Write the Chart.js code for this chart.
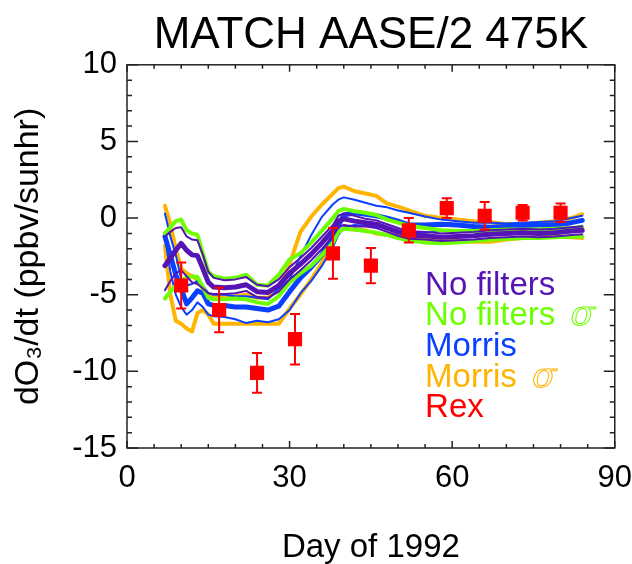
<!DOCTYPE html>
<html>
<head>
<meta charset="utf-8">
<script src="https://cdn.jsdelivr.net/npm/chart.js@4"></script>
<style>
  html, body { margin: 0; padding: 0; background: #fff; }
</style>
</head>
<body>
<canvas id="grafik" width="632" height="564"></canvas>
<script>
// days of the model curves
const days = [7, 8, 9, 10, 11, 12, 13, 14, 15, 16, 18, 20, 22, 24, 26, 28, 30, 32, 34, 36, 38, 39, 40,
  42, 44, 46, 48, 50, 52, 55, 58, 61, 64, 67, 70, 73, 76, 79, 82, 84];

// No filters (purple), thick mean plus two thin companions
const noFilters = [-3.1, -2.6, -2.1, -1.65, -2.1, -2.4, -2.45, -3.3, -4.2, -4.5, -4.55, -4.5, -4.35, -4.8, -4.85, -4.4,
  -3.6, -3.0, -2.35, -1.6, -0.8, -0.2, -0.05, -0.2, -0.3, -0.4, -0.65, -0.9, -1.1, -1.15, -1.25, -1.2, -1.15, -1.05,
  -1.0, -0.95, -1.0, -0.95, -0.85, -0.8];
const noFiltersHi = [-1.2, -0.9, -0.65, -0.6, -1.2, -1.4, -1.45, -2.4, -3.5, -3.9, -4.05, -4.0, -3.85, -4.35, -4.45, -4.0,
  -3.2, -2.6, -1.95, -1.2, -0.45, 0.15, 0.3, 0.15, -0.05, -0.15, -0.4, -0.65, -0.85, -0.9, -1.0, -0.95, -0.9, -0.8,
  -0.75, -0.7, -0.75, -0.7, -0.6, -0.55];
const noFiltersLo = [-4.7, -4.1, -3.6, -3.4, -3.8, -4.2, -4.3, -4.6, -4.9, -4.95, -4.95, -4.9, -4.75, -5.15, -5.2, -4.8,
  -4.0, -3.4, -2.75, -2.0, -1.2, -0.6, -0.45, -0.55, -0.55, -0.65, -0.9, -1.15, -1.35, -1.4, -1.5, -1.45, -1.4, -1.3,
  -1.25, -1.2, -1.25, -1.2, -1.1, -1.05];

// No filters sigma (green)
const noFiltersSigHi = [-1.0, -0.6, -0.2, -0.1, -0.8, -1.0, -1.1, -2.3, -3.5, -3.8, -3.95, -3.9, -3.7, -4.35, -4.4, -3.7,
  -2.7, -2.3, -1.6, -0.8, 0.0, 0.45, 0.6, 0.45, 0.35, 0.2, -0.1, -0.3, -0.5, -0.65, -0.8, -0.85, -0.85, -0.8, -0.75,
  -0.75, -0.75, -0.7, -0.65, -0.6];
const noFiltersSigLo = [-5.25, -4.8, -4.4, -4.05, -3.9, -3.8, -3.85, -4.5, -5.2, -5.3, -5.3, -5.25, -5.3, -5.5, -5.6, -5.1,
  -4.2, -3.6, -3.1, -2.4, -1.6, -0.9, -0.7, -0.75, -0.85, -0.95, -1.1, -1.3, -1.45, -1.6, -1.65, -1.6, -1.5, -1.4,
  -1.35, -1.3, -1.3, -1.25, -1.2, -1.2];

// Morris (blue), thick mean plus two thin companions
const morris = [-1.2, -2.4, -3.7, -4.6, -5.6, -5.2, -4.75, -4.9, -5.6, -5.7, -5.7, -5.8, -5.8, -5.9, -6.0, -5.75, -4.8,
  -3.9, -3.2, -2.4, -1.2, -0.5, 0.2, 0.35, 0.25, 0.15, 0.0, -0.2, -0.45, -0.45, -0.4, -0.45, -0.55, -0.6, -0.55, -0.5,
  -0.45, -0.45, -0.3, -0.15];
const morrisHi = [0.3, -1.2, -2.4, -4.0, -4.4, -4.3, -4.1, -4.4, -4.9, -5.0, -5.0, -5.1, -5.1, -5.2, -5.3, -4.6, -4.0,
  -2.5, -1.1, 0.1, 0.9, 1.2, 1.35, 1.2, 1.0, 0.8, 0.7, 0.5, 0.35, 0.1, -0.1, -0.2, -0.3, -0.3, -0.35, -0.3, -0.25,
  -0.2, 0.0, 0.15];
const morrisLo = [-1.2, -3.5, -5.0, -5.8, -6.3, -6.0, -5.5, -5.8, -6.3, -6.4, -6.45, -6.6, -6.85, -6.7, -6.8, -6.6, -6.0,
  -4.9, -4.1, -3.1, -1.9, -1.1, -0.6, -0.45, -0.5, -0.55, -0.65, -0.8, -0.95, -0.95, -0.85, -0.85, -0.9, -0.9, -0.85,
  -0.8, -0.8, -0.75, -0.65, -0.5];

// Morris sigma (orange)
const morrisSigHi = [0.8, -0.4, -2.0, -3.3, -3.6, -3.8, -4.0, -4.6, -5.0, -5.1, -5.15, -5.1, -5.0, -5.2, -5.2, -4.6, -3.0,
  -0.9, 0.1, 0.9, 1.6, 1.95, 2.05, 1.75, 1.6, 1.45, 0.95, 0.75, 0.5, 0.15, 0.0, -0.1, -0.2, -0.25, -0.4, -0.4, -0.3,
  -0.2, 0.0, 0.25];
const morrisSigLo = [-1.8, -5.0, -6.7, -6.9, -7.2, -7.4, -6.2, -6.0, -6.3, -6.9, -6.9, -6.9, -6.9, -6.9, -6.9, -6.9, -5.9,
  -5.0, -4.0, -2.9, -1.5, -0.9, -0.7, -0.75, -0.8, -1.0, -1.1, -1.2, -1.3, -1.35, -1.45, -1.5, -1.55, -1.55, -1.4,
  -1.3, -1.25, -1.2, -1.25, -1.3];

// Rex points with error bars
const rexDays = [10, 17, 24, 31, 38, 45, 52, 59, 66, 73, 80];
const rexValues = [-4.4, -6.0, -10.1, -7.9, -2.3, -3.1, -0.8, 0.65, 0.15, 0.35, 0.35];
const rexErrors = [1.5, 1.45, 1.3, 1.65, 1.65, 1.15, 0.8, 0.65, 0.9, 0.5, 0.6];

const xTicks = [0, 30, 60, 90];
const yTicks = [-15, -10, -5, 0, 5, 10];

const FONT = "'Liberation Sans', Arial, sans-serif";
const PURPLE = "#5514b4";
const GREEN = "#6cff00";
const BLUE = "#0a40ff";
const ORANGE = "#ffb400";
const RED = "#ff0000";

const legendItems = [
  { text: "No filters", color: PURPLE, sigma: false, y: -5 },
  { text: "No filters", color: GREEN, sigma: true, y: -7 },
  { text: "Morris", color: BLUE, sigma: false, y: -9 },
  { text: "Morris", color: ORANGE, sigma: true, y: -11 },
  { text: "Rex", color: RED, sigma: false, y: -13 },
];

function pts(values) {
  return days.map((d, i) => ({ x: d, y: values[i] }));
}

function curve(label, values, color, width, order) {
  return {
    label,
    data: pts(values),
    borderColor: color,
    borderWidth: width,
    pointRadius: 0,
    borderJoinStyle: "round",
    borderCapStyle: "round",
    order,
  };
}

// box with inward ticks on all four sides
const boxTicks = {
  id: "boxTicks",
  afterDatasetsDraw(chart) {
    const { ctx, chartArea: a, scales } = chart;
    const xs = scales.x;
    const ys = scales.y;
    ctx.save();
    ctx.strokeStyle = "#222";
    ctx.lineWidth = 1.5;
    ctx.beginPath();
    for (let d = 0; d <= 90; d += 5) {
      const px = xs.getPixelForValue(d);
      const len = xTicks.includes(d) ? 7 : 4;
      ctx.moveTo(px, a.bottom);
      ctx.lineTo(px, a.bottom - len);
      ctx.moveTo(px, a.top);
      ctx.lineTo(px, a.top + len);
    }
    for (let v = -15; v <= 10; v++) {
      const py = ys.getPixelForValue(v);
      const len = yTicks.includes(v) ? 11 : 5;
      ctx.moveTo(a.left, py);
      ctx.lineTo(a.left + len, py);
      ctx.moveTo(a.right, py);
      ctx.lineTo(a.right - len, py);
    }
    ctx.stroke();
    ctx.strokeRect(a.left, a.top, a.right - a.left, a.bottom - a.top);
    ctx.restore();
  },
};

const errorBars = {
  id: "errorBars",
  afterDatasetsDraw(chart) {
    const { ctx, scales } = chart;
    ctx.save();
    ctx.strokeStyle = RED;
    ctx.lineWidth = 2;
    ctx.beginPath();
    rexDays.forEach((d, i) => {
      const px = scales.x.getPixelForValue(d);
      const top = scales.y.getPixelForValue(rexValues[i] + rexErrors[i]);
      const bot = scales.y.getPixelForValue(rexValues[i] - rexErrors[i]);
      ctx.moveTo(px, top);
      ctx.lineTo(px, bot);
      ctx.moveTo(px - 5, top);
      ctx.lineTo(px + 5, top);
      ctx.moveTo(px - 5, bot);
      ctx.lineTo(px + 5, bot);
    });
    ctx.stroke();
    ctx.restore();
  },
};

const legendText = {
  id: "legendText",
  afterDraw(chart) {
    const { ctx, scales } = chart;
    const x0 = scales.x.getPixelForValue(55);
    ctx.save();
    ctx.textBaseline = "alphabetic";
    ctx.textAlign = "left";
    legendItems.forEach((item) => {
      const py = scales.y.getPixelForValue(item.y);
      ctx.font = "33px " + FONT;
      ctx.fillStyle = item.color;
      ctx.fillText(item.text, x0, py);
      if (item.sigma) {
        const w = ctx.measureText(item.text + " ").width;
        ctx.font = "italic 36px 'DejaVu Serif', serif";
        ctx.strokeStyle = item.color;
        ctx.lineWidth = 1;
        ctx.strokeText("σ", x0 + w + 6, py);
      }
    });
    ctx.restore();
  },
};

new Chart(document.getElementById("grafik"), {
  type: "line",
  data: {
    datasets: [
      {
        label: "Rex",
        type: "scatter",
        data: rexDays.map((d, i) => ({ x: d, y: rexValues[i] })),
        backgroundColor: RED,
        borderColor: RED,
        pointStyle: "rect",
        pointRadius: 10,
        borderWidth: 0,
        order: 0,
      },
      curve("No filters", noFilters, PURPLE, 5, 1),
      curve("No filters hi", noFiltersHi, PURPLE, 2, 2),
      curve("No filters lo", noFiltersLo, PURPLE, 2, 2),
      curve("No filters sigma hi", noFiltersSigHi, GREEN, 4, 3),
      curve("No filters sigma lo", noFiltersSigLo, GREEN, 4, 3),
      curve("Morris", morris, BLUE, 5, 4),
      curve("Morris hi", morrisHi, BLUE, 2, 4),
      curve("Morris lo", morrisLo, BLUE, 2, 4),
      curve("Morris sigma hi", morrisSigHi, ORANGE, 4, 5),
      curve("Morris sigma lo", morrisSigLo, ORANGE, 4, 5),
    ],
  },
  options: {
    responsive: false,
    animation: false,
    devicePixelRatio: 1,
    layout: { padding: { left: 0, right: 6, top: 0, bottom: 0 } },
    plugins: {
      legend: { display: false },
      tooltip: { enabled: false },
      title: {
        display: true,
        fullSize: false,
        text: "MATCH AASE/2 475K",
        color: "#000",
        font: { family: FONT, size: 44, weight: "normal" },
        padding: { top: 9, bottom: 3 },
      },
    },
    scales: {
      x: {
        type: "linear",
        min: 0,
        max: 90,
        afterFit: (s) => { s.height = 116; },
        afterBuildTicks: (s) => { s.ticks = xTicks.map((v) => ({ value: v })); },
        grid: { display: false, drawTicks: false },
        border: { display: false },
        ticks: { color: "#000", font: { family: FONT, size: 31, lineHeight: 1.97 }, padding: 0, maxRotation: 0 },
        title: {
          display: true,
          text: "Day of 1992",
          color: "#000",
          font: { family: FONT, size: 33, lineHeight: 0.85 },
          padding: { top: 0, bottom: 2 },
        },
      },
      y: {
        min: -15,
        max: 10,
        afterFit: (s) => { s.width = 127; },
        afterBuildTicks: (s) => { s.ticks = yTicks.map((v) => ({ value: v })); },
        grid: { display: false, drawTicks: false },
        border: { display: false },
        ticks: { color: "#000", font: { family: FONT, size: 31 }, padding: 10 },
        title: {
          display: true,
          text: "dO₃/dt (ppbv/sunhr)",
          color: "#000",
          font: { family: FONT, size: 34 },
          padding: { top: 8, bottom: 0 },
        },
      },
    },
  },
  plugins: [boxTicks, errorBars, legendText],
});
</script>
</body>
</html>
